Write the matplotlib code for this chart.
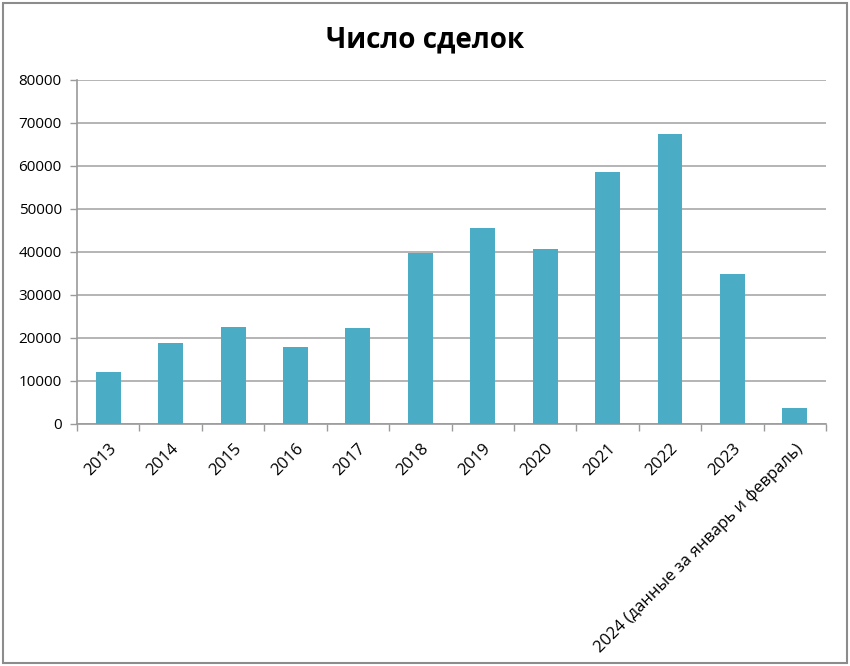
import matplotlib.pyplot as plt
import matplotlib.patches as patches
import numpy as np

years = ["2013", "2014", "2015", "2016", "2017", "2018", "2019", "2020",
         "2021", "2022", "2023", "2024 (данные за январь и февраль)"]
deals = [12000, 18900, 22600, 18000, 22250, 39700, 45500, 40700,
         58500, 67500, 34800, 3650]

plt.rcParams['font.family'] = ['Open Sans', 'DejaVu Sans']

fig = plt.figure(figsize=(8.5, 6.66), dpi=100)
ax = fig.add_axes([0.0906, 0.3634, 0.8812, 0.5165])

x = np.arange(len(years))
ax.bar(x, deals, width=0.4, color="#4BACC6", zorder=3)

ax.set_xlim(-0.5, len(years) - 0.5)
ax.set_ylim(0, 80000)
ax.set_yticks(np.arange(0, 80001, 10000))
ax.yaxis.grid(True, color="#a0a0a0", linewidth=1.1)
ax.set_axisbelow(True)

ax.set_xticks(x)
ax.set_xticklabels(years, rotation=45, ha="right", rotation_mode="anchor", fontsize=12)
ax.set_xticks(np.arange(-0.5, len(years)), minor=True)
ax.tick_params(axis="x", which="major", length=0, pad=12)
ax.tick_params(axis="x", which="minor", length=5, color="#9a9a9a", width=1)
ax.tick_params(axis="y", length=5, color="#9a9a9a", width=1, labelsize=11, pad=6)

for s in ["top", "right"]:
    ax.spines[s].set_visible(False)
ax.spines["left"].set_color("#9a9a9a")
ax.spines["bottom"].set_color("#9a9a9a")
ax.spines["left"].set_linewidth(1.2)
ax.spines["bottom"].set_linewidth(1.2)

fig.text(0.5, 0.94, "Число сделок", ha="center", va="center",
         fontsize=20, fontweight="bold")

fig.patches.append(patches.Rectangle((0.003, 0.004), 0.994, 0.992,
                                     transform=fig.transFigure, fill=False,
                                     edgecolor="#8c8c8c", linewidth=1.5))

fig.savefig("out.png", dpi=100)
